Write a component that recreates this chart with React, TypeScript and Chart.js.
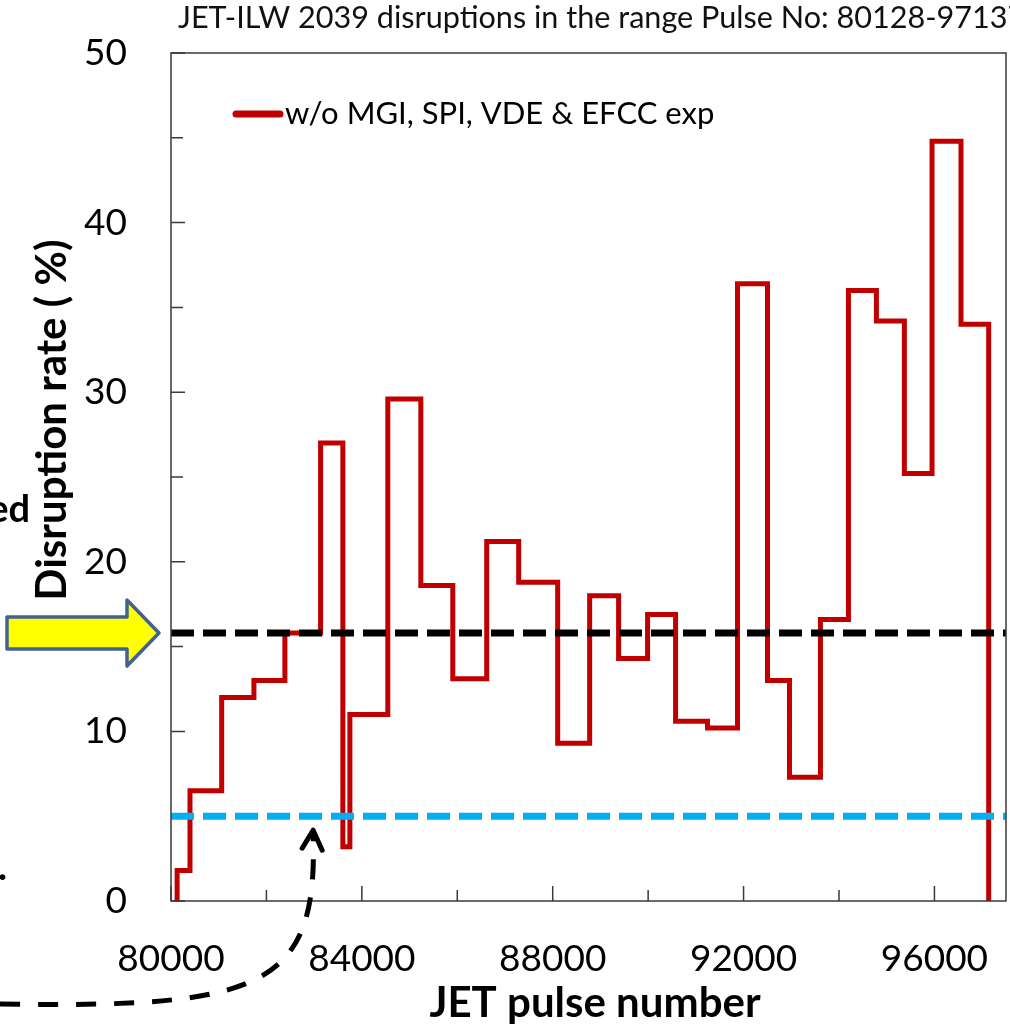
import { useEffect, useRef } from 'react';
import { Chart, registerables } from 'chart.js';

Chart.register(...registerables);

// Pulse-number bin edges and the disruption rate (%) inside each bin
const binEdges = [
  80128, 80398, 81062, 81738, 82387, 83135, 83602, 83749, 84544, 85236,
  85906, 86617, 87287, 88104, 88774, 89381, 89988, 90575, 91245, 91873,
  92501, 92962, 93611, 94198, 94784, 95370, 95950, 96557, 97137,
];
const disruptionRate = [
  1.8, 6.5, 12.0, 13.0, 15.8, 27.0, 3.2, 11.0, 29.6, 18.6,
  13.1, 21.2, 18.8, 9.3, 18.0, 14.3, 16.9, 10.6, 10.2, 36.4,
  13.0, 7.3, 16.6, 36.0, 34.2, 25.2, 44.8, 34.0,
];

const averageRate = 15.8;
const targetRate = 5;

const xRange = [80000, 97500];
const yRange = [0, 50];
const xMajorTicks = [80000, 84000, 88000, 92000, 96000];
const xMinorTicks = [82000, 86000, 90000, 94000];
const yMajorTicks = [0, 10, 20, 30, 40, 50];
const yMinorTicks = [5, 15, 25, 35, 45];

const seriesLabel = 'w/o MGI, SPI, VDE & EFCC exp';
const chartTitle = 'JET-ILW 2039 disruptions in the range Pulse No: 80128-97137';
const xTitle = 'JET pulse number';
const yTitle = 'Disruption rate ( %)';

const RED = '#C00000';
const CYAN = '#00B0F0';
const AXIS = '#3a3a3a';
const FONT = 'Lato, "Open Sans", sans-serif';

// histogram outline: rise from zero, one step per bin, fall back to zero
function buildSteps() {
  const pts: { x: number; y: number }[] = [{ x: binEdges[0], y: 0 }];
  disruptionRate.forEach((v, i) => pts.push({ x: binEdges[i], y: v }));
  const last = binEdges[binEdges.length - 1];
  pts.push({ x: last, y: disruptionRate[disruptionRate.length - 1] });
  pts.push({ x: last, y: 0 });
  return pts;
}

const decorPlugin = {
  id: 'decor',
  beforeDatasetsDraw(chart: any) {
    const { ctx, chartArea: a, scales } = chart;
    const xs = scales.x;
    const ys = scales.y;
    ctx.save();
    ctx.strokeStyle = AXIS;
    ctx.lineWidth = 1.5;
    // inward tick marks
    ctx.beginPath();
    yMajorTicks.forEach((v) => {
      const py = ys.getPixelForValue(v);
      ctx.moveTo(a.left, py);
      ctx.lineTo(a.left + 14, py);
    });
    yMinorTicks.forEach((v) => {
      const py = ys.getPixelForValue(v);
      ctx.moveTo(a.left, py);
      ctx.lineTo(a.left + 12, py);
    });
    xMajorTicks.forEach((v) => {
      const px = xs.getPixelForValue(v);
      ctx.moveTo(px, a.bottom);
      ctx.lineTo(px, a.bottom - 15);
    });
    xMinorTicks.forEach((v) => {
      const px = xs.getPixelForValue(v);
      ctx.moveTo(px, a.bottom);
      ctx.lineTo(px, a.bottom - 11);
    });
    ctx.stroke();
    ctx.restore();
  },
  afterDraw(chart: any) {
    const { ctx, chartArea: a, scales } = chart;
    const xs = scales.x;
    const ys = scales.y;
    ctx.save();

    // plot frame
    ctx.strokeStyle = AXIS;
    ctx.lineWidth = 1.5;
    ctx.strokeRect(a.left, a.top, a.right - a.left, a.bottom - a.top);

    // title
    ctx.fillStyle = '#111';
    ctx.font = `30.6px ${FONT}`;
    ctx.textAlign = 'left';
    ctx.textBaseline = 'alphabetic';
    ctx.fillText(chartTitle, a.left + 7, 28);

    // legend
    const ly = a.top + 61;
    ctx.strokeStyle = RED;
    ctx.lineWidth = 7;
    ctx.lineCap = 'round';
    ctx.beginPath();
    ctx.moveTo(a.left + 65, ly);
    ctx.lineTo(a.left + 109, ly);
    ctx.stroke();
    ctx.fillStyle = '#000';
    ctx.font = `31px ${FONT}`;
    ctx.fillText(seriesLabel, a.left + 114, ly + 10);

    // axis titles
    ctx.font = `bold 42px ${FONT}`;
    ctx.textAlign = 'center';
    ctx.fillText(xTitle, 595, a.bottom + 116);
    ctx.save();
    ctx.translate(66, 420);
    ctx.rotate(-Math.PI / 2);
    ctx.fillText(yTitle, 0, 0);
    ctx.restore();

    // clipped text at the left margin
    ctx.textAlign = 'right';
    ctx.font = `bold 38px ${FONT}`;
    ctx.fillText('ed', 30, 522);
    ctx.textAlign = 'left';
    ctx.fillText('.', -2, 880);

    // yellow block arrow pointing at the average level
    const tipX = a.left - 12;
    const tipY = ys.getPixelForValue(averageRate);
    const bodyLeft = tipX - 152;
    ctx.beginPath();
    ctx.moveTo(bodyLeft, tipY - 16);
    ctx.lineTo(tipX - 32, tipY - 16);
    ctx.lineTo(tipX - 32, tipY - 33);
    ctx.lineTo(tipX, tipY);
    ctx.lineTo(tipX - 32, tipY + 33);
    ctx.lineTo(tipX - 32, tipY + 16);
    ctx.lineTo(bodyLeft, tipY + 16);
    ctx.closePath();
    ctx.fillStyle = '#FFFF00';
    ctx.fill();
    ctx.strokeStyle = '#41628F';
    ctx.lineWidth = 3.5;
    ctx.lineJoin = 'round';
    ctx.stroke();

    // dashed curved arrow pointing at the target level
    const ex = xs.getPixelForValue(83000) - 1;
    const ey = ys.getPixelForValue(targetRate) + 16;
    ctx.strokeStyle = '#000';
    ctx.lineWidth = 5;
    ctx.lineCap = 'butt';
    ctx.setLineDash([20, 18]);
    ctx.beginPath();
    ctx.moveTo(0, a.bottom + 103);
    ctx.bezierCurveTo(260, a.bottom + 107, ex + 5, a.bottom + 89, ex, ey + 3);
    ctx.stroke();
    ctx.setLineDash([]);
    ctx.lineCap = 'round';
    ctx.lineJoin = 'round';
    ctx.beginPath();
    ctx.moveTo(ex - 11, ey + 16);
    ctx.lineTo(ex, ey - 2);
    ctx.lineTo(ex + 9, ey + 18);
    ctx.stroke();

    ctx.restore();
  },
};

// keep the plot box exactly where the layout padding puts it
function clearScalePadding(s: any) {
  s.paddingTop = 0;
  s.paddingBottom = 0;
  s.paddingLeft = 0;
  s.paddingRight = 0;
}

export default function App() {
  const ref = useRef<HTMLCanvasElement>(null);

  useEffect(() => {
    document.body.style.margin = '0';
    const canvas = ref.current;
    if (!canvas) return;

    const tickFont = { family: FONT, size: 37 };
    const chart = new Chart(canvas, {
      type: 'line',
      data: {
        datasets: [
          {
            label: 'average',
            data: [
              { x: xRange[0], y: averageRate },
              { x: xRange[1], y: averageRate },
            ],
            borderColor: '#000',
            borderWidth: 7,
            borderDash: [23, 9],
            pointRadius: 0,
            order: 0,
          },
          {
            label: 'target',
            data: [
              { x: xRange[0], y: targetRate },
              { x: xRange[1], y: targetRate },
            ],
            borderColor: CYAN,
            borderWidth: 7,
            borderDash: [23, 9],
            pointRadius: 0,
            order: 1,
          },
          {
            label: seriesLabel,
            data: buildSteps(),
            borderColor: RED,
            borderWidth: 5,
            stepped: 'before',
            pointRadius: 0,
            fill: false,
            order: 2,
          },
        ],
      },
      options: {
        animation: false,
        responsive: false,
        devicePixelRatio: 1,
        layout: { padding: { top: 53, right: 4, left: 0, bottom: 0 } },
        plugins: {
          legend: { display: false },
          title: { display: false },
          tooltip: { enabled: false },
        },
        scales: {
          x: {
            type: 'linear',
            min: xRange[0],
            max: xRange[1],
            grid: { display: false, drawTicks: false },
            border: { display: false },
            ticks: {
              padding: 36,
              color: '#000',
              font: tickFont,
              maxRotation: 0,
              autoSkip: false,
              callback: (v: any) => String(v),
            },
            afterBuildTicks: (s: any) => {
              s.ticks = xMajorTicks.map((v) => ({ value: v }));
            },
            afterFit: (s: any) => {
              s.height = 123;
              clearScalePadding(s);
            },
          },
          y: {
            type: 'linear',
            min: yRange[0],
            max: yRange[1],
            grid: { display: false, drawTicks: false },
            border: { display: false },
            ticks: {
              padding: 44,
              color: '#000',
              font: tickFont,
              autoSkip: false,
              callback: (v: any) => String(v),
            },
            afterBuildTicks: (s: any) => {
              s.ticks = yMajorTicks.map((v) => ({ value: v }));
            },
            afterFit: (s: any) => {
              s.width = 171;
              clearScalePadding(s);
            },
          },
        },
      },
      plugins: [decorPlugin],
    });

    return () => chart.destroy();
  }, []);

  return (
    <canvas
      ref={ref}
      width={1010}
      height={1024}
      style={{ display: 'block', width: 1010, height: 1024 }}
    />
  );
}
